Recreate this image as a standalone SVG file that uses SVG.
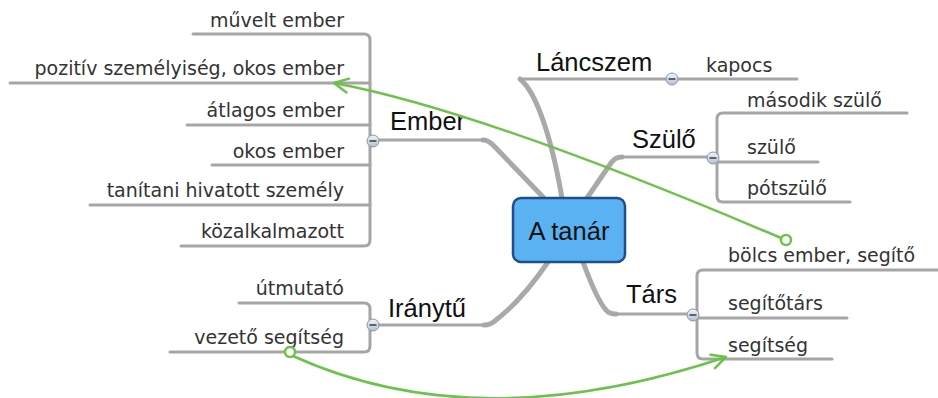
<svg xmlns="http://www.w3.org/2000/svg" width="938" height="398" viewBox="0 0 938 398">
<style>
.stem{fill:none;stroke:#a9a9a9;stroke-width:5;stroke-linecap:round;stroke-linejoin:round}
.br{fill:none;stroke:#a6a6a6;stroke-width:3;stroke-linecap:round;stroke-linejoin:round}
.ln{fill:none;stroke:#a6a6a6;stroke-width:3;stroke-linecap:round}
.h{font-family:"Liberation Sans",Arial,sans-serif;font-size:25.5px;fill:#111}
.c{font-family:"DejaVu Sans",Verdana,sans-serif;font-size:19px;fill:#333}
.e{text-anchor:end}
.tog{fill:url(#tg);stroke:#8796a8;stroke-width:1}
.minus{stroke:#3a4656;stroke-width:1.6}
.rel{fill:none;stroke:#6cc24a;stroke-width:2.5}
.dot{fill:#fff;stroke:#6cc24a;stroke-width:2.5}
</style>
<defs>
<linearGradient id="tg" x1="0" y1="0" x2="0" y2="1">
<stop offset="0" stop-color="#f2f5f8"/>
<stop offset="1" stop-color="#b3bfcc"/>
</linearGradient>
<marker id="ah" markerUnits="userSpaceOnUse" markerWidth="20" markerHeight="20" viewBox="0 0 20 20" refX="16" refY="10" orient="auto">
<path d="M2,3 L16,10 L2,17" fill="none" stroke="#6cc24a" stroke-width="2.5" stroke-linecap="round" stroke-linejoin="round"/>
</marker>
</defs>

<g id="connectors">
<path class="stem" d="M483,140 Q488,140 493,145 L544,198"/>
<path class="stem" d="M520,79 C536,92 551,135 562,198"/>
<path class="stem" d="M622,157 Q615,157 611,163 L587,198"/>
<path class="stem" d="M583,262 Q597,300 606,310 Q609,314 616,314"/>
<path class="stem" d="M548,262 Q522,300 496,320 Q491,325 484,325"/>
</g>

<g id="center">
<rect x="513" y="198" width="112" height="64" rx="8" fill="#5ab2f2" stroke="#1f4e8c" stroke-width="2.5"/>
<text x="569" y="240" class="h" text-anchor="middle" fill="#0d1f33">A tanár</text>
</g>

<g id="ember">
<path class="ln" d="M373,140 H485"/>
<text x="390" y="130" class="h">Ember</text>
<path class="br" d="M193,34 H364 Q370,34 370,40 V240 Q370,246 364,246 H181"/>
<path class="ln" d="M10,83 H370"/>
<path class="ln" d="M187,125 H370"/>
<path class="ln" d="M212,165 H370"/>
<path class="ln" d="M90,205 H370"/>
<text x="344" y="27" class="c e">művelt ember</text>
<text x="344" y="75" class="c e">pozitív személyiség, okos ember</text>
<text x="344" y="117" class="c e">átlagos ember</text>
<text x="344" y="158" class="c e">okos ember</text>
<text x="344" y="197" class="c e">tanítani hivatott személy</text>
<text x="344" y="238" class="c e">közalkalmazott</text>
<circle class="tog" cx="373" cy="141" r="6"/>
<path class="minus" d="M369.5,141 H376.5"/>
</g>

<g id="lancszem">
<path class="ln" d="M520,79 H797"/>
<text x="536" y="71" class="h">Láncszem</text>
<text x="706" y="72" class="c">kapocs</text>
<circle class="tog" cx="672" cy="79" r="6"/>
<path class="minus" d="M668.5,79 H675.5"/>
</g>

<g id="szulo">
<path class="ln" d="M620,157 H716"/>
<text x="632" y="148" class="h">Szülő</text>
<path class="br" d="M907,113 H723 Q717,113 717,119 V196 Q717,202 723,202 H850"/>
<path class="ln" d="M717,162 H818"/>
<text x="747" y="107" class="c">második szülő</text>
<text x="747" y="154" class="c">szülő</text>
<text x="747" y="195" class="c">pótszülő</text>
<circle class="tog" cx="713" cy="158" r="6"/>
<path class="minus" d="M709.5,158 H716.5"/>
</g>

<g id="tars">
<path class="ln" d="M612,314 H697"/>
<text x="626" y="303" class="h">Társ</text>
<path class="br" d="M938,270 H703 Q697,270 697,276 V353 Q697,359 703,359 H832"/>
<path class="ln" d="M697,318 H847"/>
<text x="728" y="262" class="c">bölcs ember, segítő</text>
<text x="728" y="310" class="c">segítőtárs</text>
<text x="728" y="352" class="c">segítség</text>
<circle class="tog" cx="693" cy="315" r="6"/>
<path class="minus" d="M689.5,315 H696.5"/>
</g>

<g id="iranytu">
<path class="ln" d="M373,325 H488"/>
<text x="388" y="317" class="h">Iránytű</text>
<path class="br" d="M239,303 H364 Q370,303 370,309 V346 Q370,352 364,352 H170"/>
<text x="344" y="295" class="c e">útmutató</text>
<text x="344" y="344" class="c e">vezető segítség</text>
<circle class="tog" cx="373" cy="325" r="6"/>
<path class="minus" d="M369.5,325 H376.5"/>
</g>

<g id="relations">
<path class="rel" d="M781,238 Q480,110 334,83" marker-end="url(#ah)"/>
<circle class="dot" cx="786" cy="240" r="5"/>
<path class="rel" d="M293,356 Q478,440 726,357" marker-end="url(#ah)"/>
<circle class="dot" cx="290" cy="352" r="5"/>
</g>
</svg>
